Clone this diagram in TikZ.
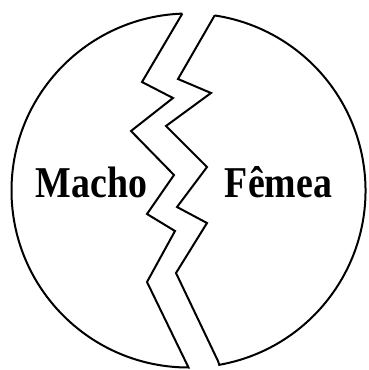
\documentclass[tikz,border=0pt]{standalone}
\usepackage{fontspec}
\setmainfont{Liberation Serif}
\usetikzlibrary{calc}
\begin{document}
\begin{tikzpicture}[x=1pt, y=-1pt, line join=miter]
\useasboundingbox (0,0) rectangle (368,370);
\tikzset{half/.style={draw, line width=2pt},
  word/.style={anchor=base, font=\fontsize{44}{44}\selectfont\bfseries, xscale=0.86, transform shape, inner sep=0pt}}
\coordinate (c) at (188.5,190.5);
% left half
\draw[half] ($(c)+(268:177)$) -- (142,82) -- (173,98) -- (131,131) -- (174,175)
  -- (147,214) -- (175,231) -- (147,282) -- ($(c)+(90:177)$)
  arc[start angle=90, end angle=268, radius=177];
% right half
\draw[half] ($(c)+(-81.5:177)$) -- (178,79) -- (211,93) -- (166,126) -- (207,167)
  -- (177,207) -- (207,223) -- (176,273) -- (218,361) -- ($(c)+(80:177)$)
  arc[start angle=80, end angle=-81.5, radius=177];
\node[word] (macho) at (91.5,197) {Macho};
\node[word] (femea) at (278.5,197) {Fêmea};
\end{tikzpicture}
\end{document}
